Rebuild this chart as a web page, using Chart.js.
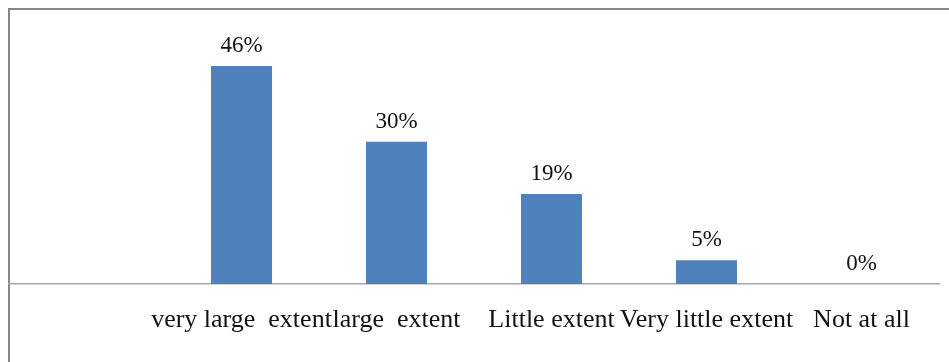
<!DOCTYPE html>
<html>
<head>
<meta charset="utf-8">
<script src="https://cdn.jsdelivr.net/npm/chart.js@4/dist/chart.umd.min.js"></script>
<style>
  html, body { margin: 0; padding: 0; background: #fff; }
  #wrap { width: 949px; height: 362px; }
</style>
</head>
<body>
<div id="wrap"><canvas id="chart" width="949" height="362"></canvas></div>
<script>
// categories (first slot is left empty on purpose)
const categories = ['', 'very large  extent', 'large  extent', 'Little extent', 'Very little extent', 'Not at all'];
const percentages = [null, 46, 30, 19, 5, 0];

const serif = "'Liberation Serif', 'Times New Roman', serif";

// outer frame: only the top and left edges show
const framePlugin = {
    id: 'frame',
    beforeDraw(chart) {
        const ctx = chart.ctx;
        ctx.save();
        ctx.strokeStyle = '#878787';
        ctx.lineWidth = 2;
        ctx.beginPath();
        ctx.moveTo(9, chart.height);
        ctx.lineTo(9, 9);
        ctx.lineTo(chart.width, 9);
        ctx.stroke();
        ctx.restore();
    }
};

// percent labels above each bar
const valueLabels = {
    id: 'valueLabels',
    afterDatasetsDraw(chart) {
        const ctx = chart.ctx;
        const meta = chart.getDatasetMeta(0);
        ctx.save();
        ctx.font = '23px ' + serif;
        ctx.fillStyle = '#111';
        ctx.textAlign = 'center';
        ctx.textBaseline = 'alphabetic';
        meta.data.forEach((bar, i) => {
            const v = percentages[i];
            if (v === null) return;
            ctx.fillText(v + '%', bar.x, bar.y - 14);
        });
        ctx.restore();
    }
};

new Chart(document.getElementById('chart'), {
    type: 'bar',
    data: {
        labels: categories,
        datasets: [{
            data: percentages,
            backgroundColor: '#4f81bd',
            borderWidth: 0,
            categoryPercentage: 1,
            barPercentage: 0.394
        }]
    },
    options: {
        responsive: true,
        maintainAspectRatio: false,
        animation: false,
        layout: { padding: { left: 9, right: 10, top: 47, bottom: 0 } },
        plugins: { legend: { display: false }, tooltip: { enabled: false } },
        scales: {
            x: {
                grid: { display: false },
                border: { display: true, color: '#a6a6a6', width: 1.5 },
                ticks: {
                    autoSkip: false,
                    maxRotation: 0,
                    minRotation: 0,
                    padding: 13,
                    color: '#111',
                    font: { family: serif, size: 26 }
                },
                afterFit(scale) { scale.height = 78; }
            },
            y: {
                display: false,
                min: 0,
                max: 50
            }
        }
    },
    plugins: [framePlugin, valueLabels]
});
</script>
</body>
</html>
